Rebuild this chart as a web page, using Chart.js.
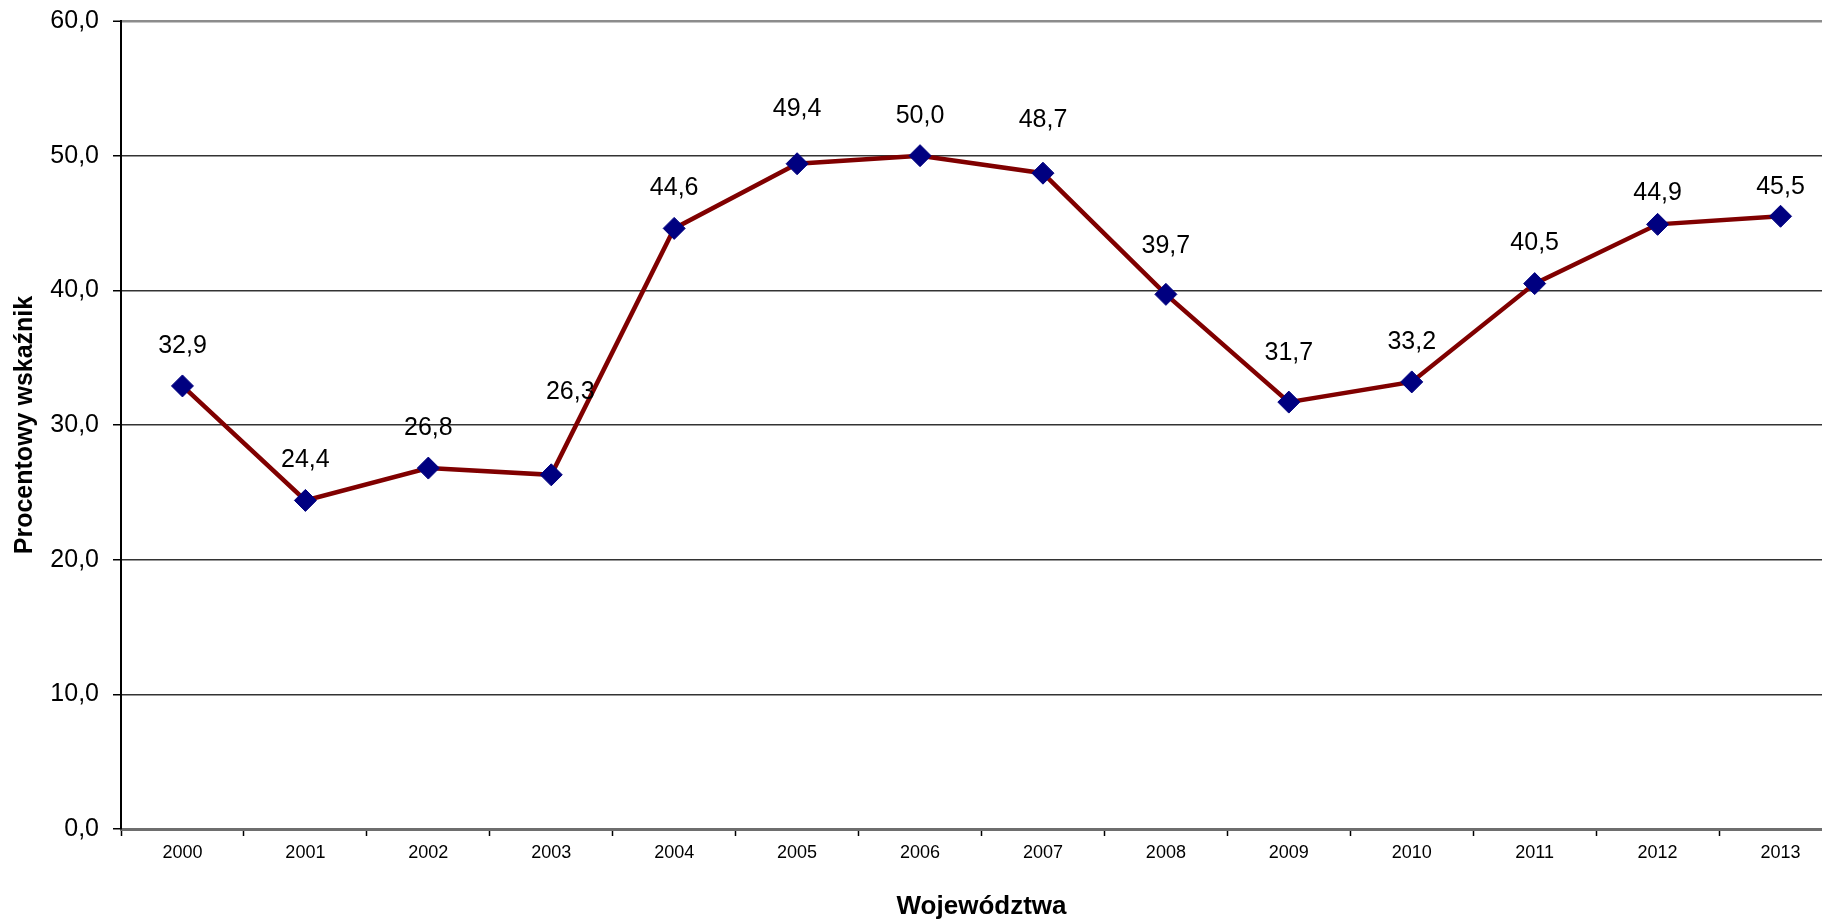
<!DOCTYPE html>
<html>
<head>
<meta charset="utf-8">
<script src="https://cdn.jsdelivr.net/npm/chart.js@4.4.1/dist/chart.umd.min.js"></script>
<style>
  html, body { margin: 0; padding: 0; background: #ffffff; overflow: hidden; width: 1822px; height: 923px; }
  #wrap { width: 1842px; height: 923px; position: relative; }
</style>
</head>
<body>
<div id="wrap"><canvas id="c"></canvas></div>
<script>
const categories = ['2000','2001','2002','2003','2004','2005','2006','2007','2008','2009','2010','2011','2012','2013'];
const values = [32.9, 24.4, 26.8, 26.3, 44.6, 49.4, 50.0, 48.7, 39.7, 31.7, 33.2, 40.5, 44.9, 45.5];
const yTicks = [0, 10, 20, 30, 40, 50, 60];
const yTitle = 'Procentowy wskaźnik';
const xTitle = 'Województwa';

const fmt = v => Number(v).toFixed(1).replace('.', ',');

// label placement tweaks (pixels), keyed by point index, as in the original layout
const labelNudge = { 3: [19, -43], 5: [0, -15], 7: [0, -13], 8: [0, -8], 9: [0, -9], 12: [0, 9], 13: [0, 11] };

const dataLabels = {
  id: 'dataLabels',
  afterDatasetsDraw(chart) {
    const ctx = chart.ctx;
    const meta = chart.getDatasetMeta(0);
    ctx.save();
    ctx.font = '25px "Liberation Sans", Arial, sans-serif';
    ctx.fillStyle = '#000000';
    ctx.textAlign = 'center';
    ctx.textBaseline = 'middle';
    meta.data.forEach((pt, i) => {
      const n = labelNudge[i] || [0, 0];
      ctx.fillText(fmt(values[i]), pt.x + n[0], pt.y - 40 + n[1]);
    });
    ctx.restore();
  }
};

new Chart(document.getElementById('c'), {
  type: 'line',
  data: {
    labels: categories,
    datasets: [{
      data: values,
      borderColor: '#800000',
      borderWidth: 4.5,
      pointStyle: 'rectRot',
      pointRadius: 11,
      pointHoverRadius: 11,
      pointBackgroundColor: '#000080',
      pointBorderColor: '#000080',
      pointBorderWidth: 1,
      tension: 0,
      fill: false,
      clip: false
    }]
  },
  options: {
    responsive: true,
    maintainAspectRatio: false,
    animation: false,
    layout: { autoPadding: false, padding: { top: 21, right: 0, left: 0, bottom: 0 } },
    plugins: {
      legend: { display: false },
      tooltip: { enabled: false },
      title: { display: false }
    },
    scales: {
      x: {
        type: 'category',
        offset: true,
        grid: {
          offset: true,
          drawOnChartArea: false,
          drawTicks: true,
          tickLength: 7,
          tickColor: '#000000',
          tickWidth: 1.5
        },
        border: { display: true, color: '#6e6e6e', width: 3 },
        ticks: {
          color: '#000000',
          padding: 6,
          maxRotation: 0,
          autoSkip: false,
          font: { family: '"Liberation Sans", Arial, sans-serif', size: 18 }
        },
        title: {
          display: false
        },
        afterFit(scale) {
          scale.height = 94;
          scale.paddingLeft = 0;
          scale.paddingRight = 0;
        }
      },
      y: {
        min: 0,
        max: 60,
        afterBuildTicks(scale) { scale.ticks = yTicks.map(v => ({ value: v })); },
        grid: {
          color: ctx => (ctx.tick && ctx.tick.value === 60) ? '#8c8c8c' : '#333333',
          lineWidth: ctx => (ctx.tick && ctx.tick.value === 60) ? 2.5 : 1.5,
          drawTicks: true,
          tickLength: 8,
          tickColor: '#000000',
          tickWidth: 1.5
        },
        border: { display: true, color: '#000000', width: 2 },
        ticks: {
          color: '#000000',
          padding: 14,
          callback: v => fmt(v),
          font: { family: '"Liberation Sans", Arial, sans-serif', size: 25 }
        },
        title: {
          display: true,
          text: yTitle,
          color: '#000000',
          font: { family: '"Liberation Sans", Arial, sans-serif', size: 25, weight: 'bold' },
          padding: { top: 10, bottom: 0 }
        },
        afterFit(scale) {
          scale.width = 121;
          scale.paddingTop = 0;
          scale.paddingBottom = 0;
        }
      }
    }
  },
  plugins: [dataLabels, {
    id: 'xTitle',
    afterDraw(chart) {
      const ctx = chart.ctx;
      const area = chart.chartArea;
      ctx.save();
      ctx.font = 'bold 26px "Liberation Sans", Arial, sans-serif';
      ctx.fillStyle = '#000000';
      ctx.textAlign = 'center';
      ctx.textBaseline = 'middle';
      // centred in the visible part of the plot (the plot runs past the right window edge)
      const visibleRight = Math.min(area.right, 1822);
      ctx.fillText(xTitle, (area.left + visibleRight) / 2 + 10, chart.height - 16);
      ctx.restore();
    }
  }]
});
</script>
</body>
</html>
